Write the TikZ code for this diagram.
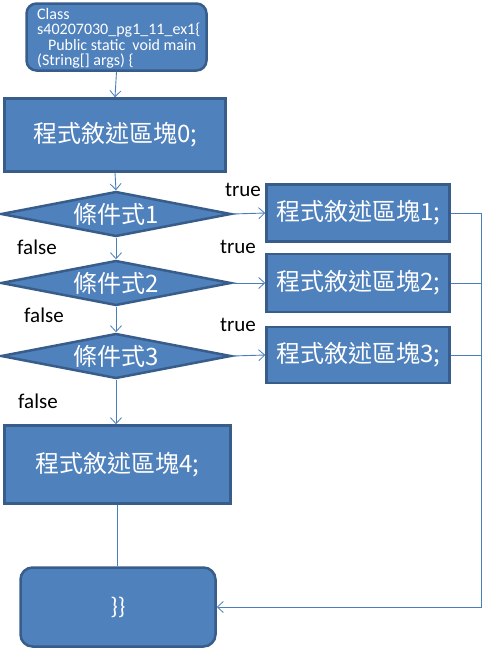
\documentclass[tikz,border=0pt]{standalone}
\usepackage{fontspec}
\setmainfont{Carlito}
\newfontfamily\cjk{Noto Sans CJK TC}
\usepackage{tikz}
\usetikzlibrary{arrows.meta, shapes.geometric}
\usepackage{xcolor}
\definecolor{boxfill}{RGB}{79,129,189}
\definecolor{boxline}{RGB}{56,93,138}
\definecolor{flow}{RGB}{74,126,187}

\begin{document}
\begin{tikzpicture}[x=1pt, y=-1pt,
  block/.style={draw=boxline, line width=2.5pt, fill=boxfill, text=white, inner sep=0pt,
    font=\cjk\fontsize{24}{28}\selectfont},
  cond/.style={diamond, aspect=5.1, draw=boxline, line width=2.5pt, fill=boxfill, text=white, inner sep=0pt,
    minimum width=230pt, minimum height=45pt, font=\cjk\fontsize{24}{28}\selectfont},
  endbox/.style={block, rounded corners=12pt},
  flowline/.style={draw=flow, line width=0.9pt},
  flowarrow/.style={flowline, -{Straight Barb[length=6pt, width=11pt, line width=0.8pt]}},
  answer/.style={font=\fontsize{21}{23}\selectfont, text=black}]
  \useasboundingbox (0,0) rectangle (482,649);

  % start of the program
  \node[endbox, minimum width=180pt, minimum height=67pt, rounded corners=10pt] (start) at (116.5,37) {};
  \node[anchor=north west, text=white, align=left, font=\fontsize{16}{15.5}\selectfont, inner sep=0pt]
    (code) at (37,8) {Class\\s40207030\_pg1\_11\_ex1\{\\\ \ \ Public static\ \ void main\\(String[] args) \{};

  % main column
  \node[block, minimum width=221pt, minimum height=73pt] (b0) at (115,135) {程式敘述區塊0;};
  \node[cond] (c1) at (116,214) {條件式1};
  \node[cond] (c2) at (116,283) {條件式2};
  \node[cond] (c3) at (116,356) {條件式3};
  \node[block, minimum width=226pt, minimum height=78pt] (b4) at (117.5,464.5) {程式敘述區塊4;};
  \node[endbox, minimum width=195pt, minimum height=79pt, font=\fontsize{24}{28}\selectfont] (stop) at (118,607) {\}\}};

  % true branches
  \node[block, minimum width=183pt, minimum height=57pt] (b1) at (358,213) {程式敘述區塊1;};
  \node[block, minimum width=183pt, minimum height=58pt] (b2) at (358,283) {程式敘述區塊2;};
  \node[block, minimum width=183pt, minimum height=56pt] (b3) at (358,355) {程式敘述區塊3;};

  \node[answer] (t1) at (243,190) {true};
  \node[answer] (t2) at (238,247) {true};
  \node[answer] (t3) at (238,325) {true};
  \node[answer] (f1) at (37,247) {false};
  \node[answer] (f2) at (44,315) {false};
  \node[answer] (f3) at (38,401) {false};

  \coordinate (r1) at (481,213);
  \coordinate (r4) at (481,607);

  % connectors
  \draw[flowarrow] (start.south) -- (b0.north);
  \draw[flowarrow] (b0.south) -- (c1.north);
  \draw[flowarrow] (c1.south) -- (c2.north);
  \draw[flowarrow] (c2.south) -- (c3.north);
  \draw[flowarrow] (c3.south) -- (c3.south |- b4.north);
  \draw[flowline] (b4.south) -- (b4.south |- stop.north);
  \draw[flowarrow] (c1.east) -- (b1.west);
  \draw[flowarrow] (c2.east) -- (b2.west);
  \draw[flowarrow] (c3.east) -- (b3.west);
  \draw[flowline] (b1.east) -- (r1);
  \draw[flowline] (b2.east) -- (b2.east -| r1);
  \draw[flowline] (b3.east) -- (b3.east -| r1);
  \draw[flowarrow] (r1) -- (r4) -- (stop.east);
\end{tikzpicture}
\end{document}
